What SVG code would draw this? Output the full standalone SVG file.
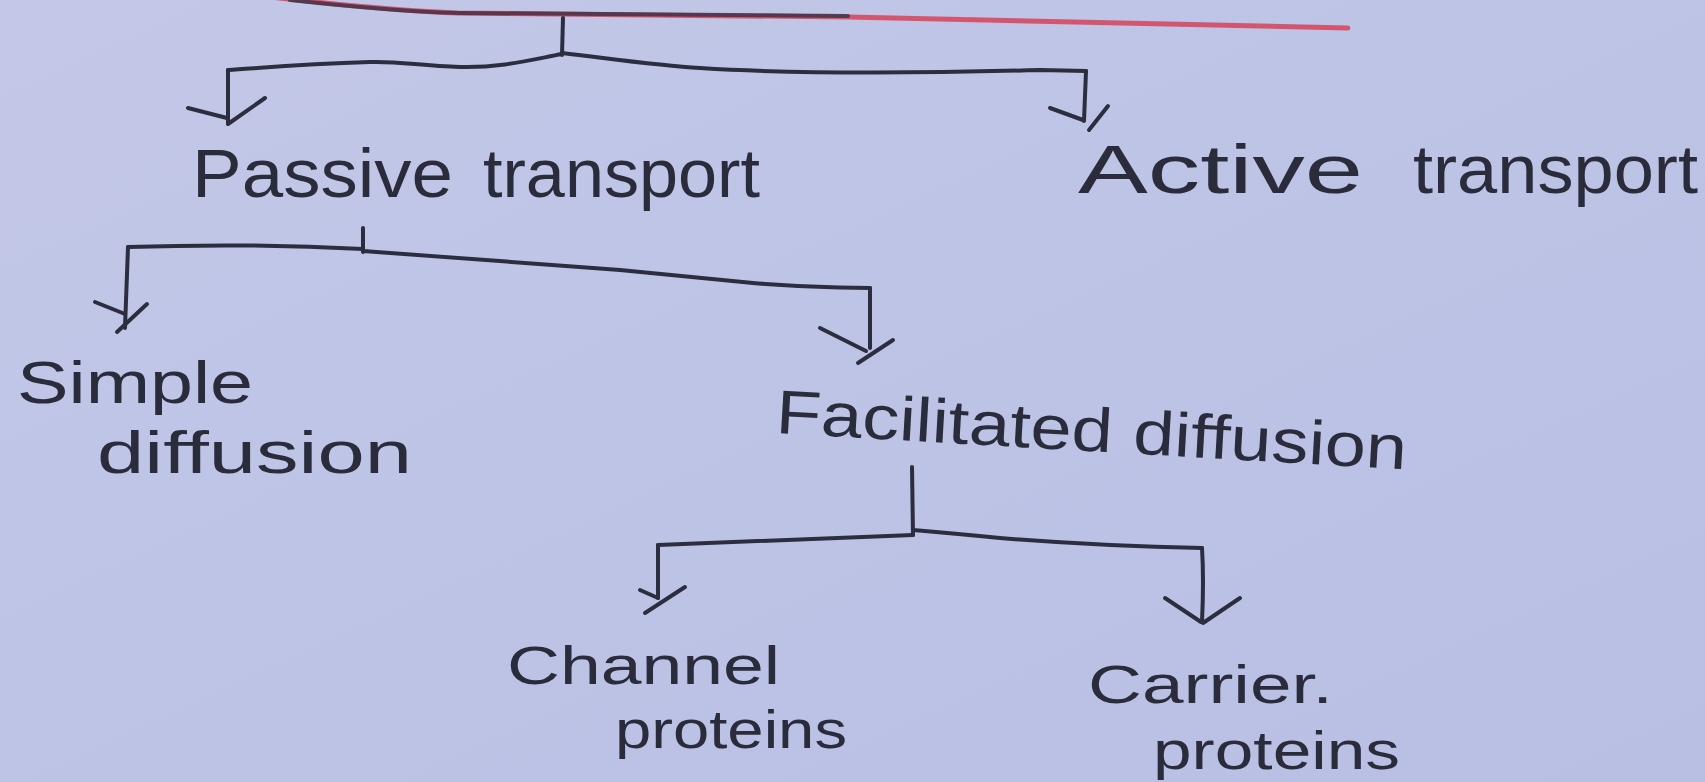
<svg xmlns="http://www.w3.org/2000/svg" width="1705" height="782" viewBox="0 0 1705 782">
  <defs>
    <linearGradient id="paper" x1="0" y1="0" x2="1" y2="1">
      <stop offset="0" stop-color="#c3c8e8"/>
      <stop offset="1" stop-color="#b8bfe3"/>
    </linearGradient>
    <style>
      .pen { fill: none; stroke: #2c2e40; stroke-width: 4; stroke-linecap: round; stroke-linejoin: round; }
      .red { fill: none; stroke: #d4566e; stroke-width: 5; stroke-linecap: round; }
      .lbl { font-family: "Liberation Sans", "DejaVu Sans", sans-serif; fill: #2a2c3c; }
      .l1 { font-size: 68px; }
      .l2 { font-size: 54px; }
    </style>
  </defs>
  <rect x="0" y="0" width="1705" height="782" fill="url(#paper)"/>

  <g id="connectors">
    <!-- top red rule with dark overlay -->
    <path class="red" d="M 262 -4 Q 380 10 457 13 L 848 17 Q 1100 22 1348 28"/>
    <path class="pen" stroke-opacity="0.75" d="M 290 0 Q 400 12 460 13 L 848 16"/>
    <!-- top split -->
    <path class="pen" d="M 563 18 L 562 55"/>
    <path class="pen" d="M 562 54 C 530 60 500 68 460 67 C 420 66 400 61 370 62 C 300 64 260 68 228 70"/>
    <path class="pen" d="M 562 53 C 620 60 660 66 700 68 C 780 73 900 74 1040 70 L 1086 71"/>
    <path class="pen" d="M 228 70 L 228 123"/>
    <path class="pen" d="M 188 108 L 227 118 M 265 98 L 228 124"/>
    <path class="pen" d="M 1086 71 L 1084 121"/>
    <path class="pen" d="M 1050 108 L 1083 120 M 1108 106 L 1089 130"/>
    <!-- passive split -->
    <path class="pen" d="M 363 228 L 363 252"/>
    <path class="pen" d="M 128 247 Q 250 243 363 249"/>
    <path class="pen" d="M 363 251 L 620 270 L 753 283 Q 800 287 870 288"/>
    <path class="pen" d="M 128 247 L 125 328"/>
    <path class="pen" d="M 95 302 L 125 314 M 147 304 L 117 332"/>
    <path class="pen" d="M 870 288 L 870 348"/>
    <path class="pen" d="M 820 328 L 866 351 M 893 340 L 858 363"/>
    <!-- facilitated split -->
    <path class="pen" d="M 912 467 L 913 535"/>
    <path class="pen" d="M 913 535 Q 800 539 658 545"/>
    <path class="pen" d="M 913 530 Q 960 534 1000 538 Q 1100 546 1202 548"/>
    <path class="pen" d="M 658 545 L 658 598"/>
    <path class="pen" d="M 640 590 L 658 598 M 685 587 L 645 613"/>
    <path class="pen" d="M 1202 548 Q 1204 580 1202 622"/>
    <path class="pen" d="M 1165 598 L 1201 622 M 1240 598 L 1203 623"/>
  </g>

  <g id="passive-transport">
    <text class="lbl l1" y="197"><tspan x="192" textLength="261" lengthAdjust="spacingAndGlyphs">Passive</tspan><tspan x="483" textLength="277" lengthAdjust="spacingAndGlyphs">transport</tspan></text>
  </g>
  <g id="active-transport">
    <text class="lbl l1" y="193"><tspan x="1078" textLength="285" lengthAdjust="spacingAndGlyphs">Active</tspan><tspan x="1413" textLength="285" lengthAdjust="spacingAndGlyphs">transport</tspan></text>
  </g>
  <g id="simple-diffusion">
    <text class="lbl" font-size="60"><tspan x="17" y="403" textLength="236" lengthAdjust="spacingAndGlyphs">Simple</tspan><tspan x="97" y="473" textLength="315" lengthAdjust="spacingAndGlyphs">diffusion</tspan></text>
  </g>
  <g id="facilitated-diffusion">
    <text class="lbl" font-size="62" x="775" y="433" textLength="632" lengthAdjust="spacingAndGlyphs" transform="rotate(3.3 775 433)">Facilitated diffusion</text>
  </g>
  <g id="channel-proteins">
    <text class="lbl l2"><tspan x="507" y="684" textLength="273" lengthAdjust="spacingAndGlyphs">Channel</tspan><tspan x="615" y="748" textLength="232" lengthAdjust="spacingAndGlyphs">proteins</tspan></text>
  </g>
  <g id="carrier-proteins">
    <text class="lbl l2"><tspan x="1088" y="703" textLength="245" lengthAdjust="spacingAndGlyphs">Carrier.</tspan><tspan x="1153" y="769" textLength="247" lengthAdjust="spacingAndGlyphs">proteins</tspan></text>
  </g>
</svg>
